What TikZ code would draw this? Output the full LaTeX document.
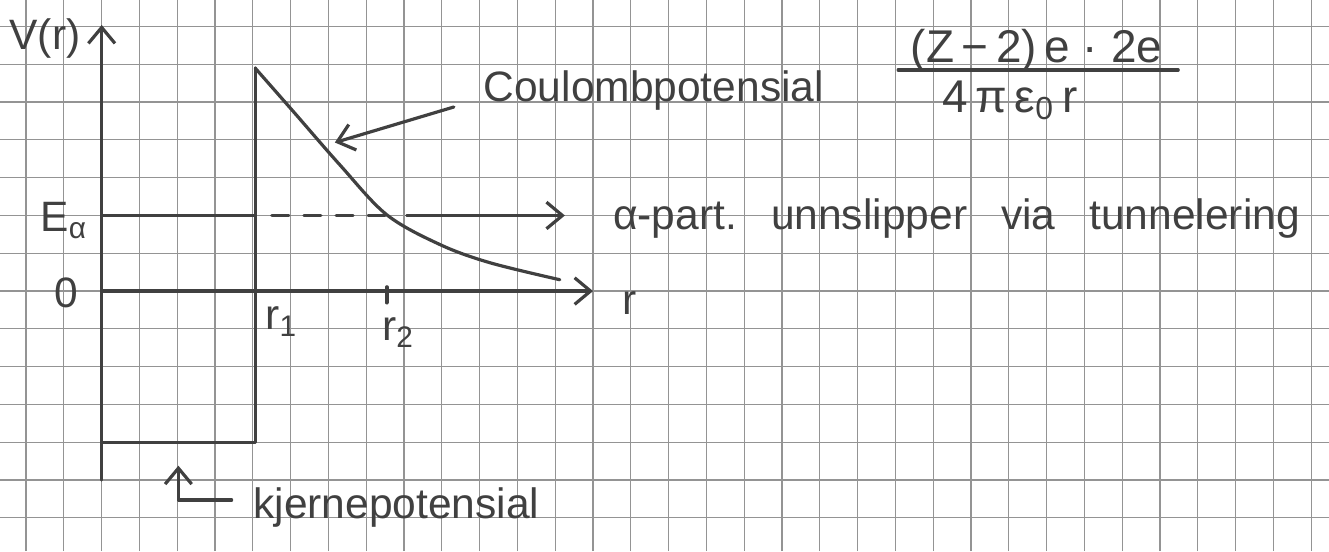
\documentclass[tikz,border=0pt]{standalone}
\usepackage{fontspec}
\setmainfont{Liberation Sans}
\usetikzlibrary{arrows.meta,positioning}
\definecolor{blekk}{gray}{0.25}
\definecolor{rute}{gray}{0.58}
\tikzset{
 pen/.style = {draw = blekk, line width = 1.2pt, line cap = round, line join = round},
 pil/.style = {pen, -{Straight Barb[length = 6pt, width = 10pt]}},
 skrift/.style = {text = blekk, font = \fontsize{16}{19}\selectfont, inner sep = 0pt},
}
\begin{document}
\begin{tikzpicture}[x = 0.5cm, y = 0.5cm]
\fill[white] (-2.69,-6.88) rectangle (32.47,7.7);
\useasboundingbox (-2.69,-6.88) rectangle (32.47,7.7);
\draw[rute, line width = 0.45pt, step = 0.5cm] (-2.69,-6.88) grid (32.47,7.7);
\draw[pil] (0,-5) -- (0,7.04) coordinate (vtopp);
\draw[pil] (0,0) coordinate (origo) -- (13,0) coordinate (rtopp);
\draw[pen] (0,-4) -- (4.06,-4) -- (4.06,5.9) coordinate (topp);
\draw[pen] (0,2) -- (4.06,2) coordinate (vegg);
\draw[pen, dash pattern = on 6.4pt off 5.7pt] (4.5,2) -- (7.5,2);
\draw[pen] (topp) plot[smooth, tension = 0.55] coordinates {(4.06,5.9) (5.07,4.75) (6.3,3.34) (7.54,2.02) (8.95,1.23) (10.27,0.75) (12.12,0.3)};
\draw[pen, line width = 1.6pt] (7.54,-0.3) coordinate (rto) -- (7.54,0.1);
\node[skrift, anchor = base] (V) at (-1.5,6.38) {V(r)};
\node[skrift, anchor = base west] (Ea) at (-1.63,1.57) {E\textsubscript{α}};
\node[skrift, anchor = base] (null) at (-0.93,-0.43) {0};
\node[skrift, right = 11pt of rtopp, anchor = north west] (r) {r};
\node[skrift, anchor = base west] (r1) at (4.32,-1.01) {r\textsubscript{1}};
\node[skrift, anchor = base west] (r2) at (7.41,-1.32) {r\textsubscript{2}};
\node[skrift, anchor = base west] (cp) at (10.09,5.01) {Coulombpotensial};
\node[skrift, anchor = base west] (ap) at (13.52,1.62) {α-part.\hspace{0.8em}unnslipper\hspace{0.8em}via\hspace{0.8em}tunnelering};
\node[skrift, anchor = base west] (kp) at (4,-6.02) {kjernepotensial};
\node[skrift, font = \LARGE, anchor = base] (teller) at (24.73,6.06) {(Z\,−\,2)\,e\;·\;2e};
\node[skrift, font = \LARGE, anchor = base] (nevner) at (24.03,4.72) {4\,π\,ε\textsubscript{0}\,r};
\draw[pen] (21.07,5.85) -- (28.48,5.85);
\coordinate (es) at (8.07,2);
\coordinate (cpt) at (6.17,3.93);
\coordinate (kpt) at (2.03,-4.62);
\draw[pil, shorten > = 18pt] (es) -- (es -| ap.west);
\draw[pil] ([shift = {(-11pt,-2pt)}]cp.base west) -- (cpt);
\draw[pil] ([shift = {(-8pt,7pt)}]kp.base west) -| (kpt);
\end{tikzpicture}
\end{document}
